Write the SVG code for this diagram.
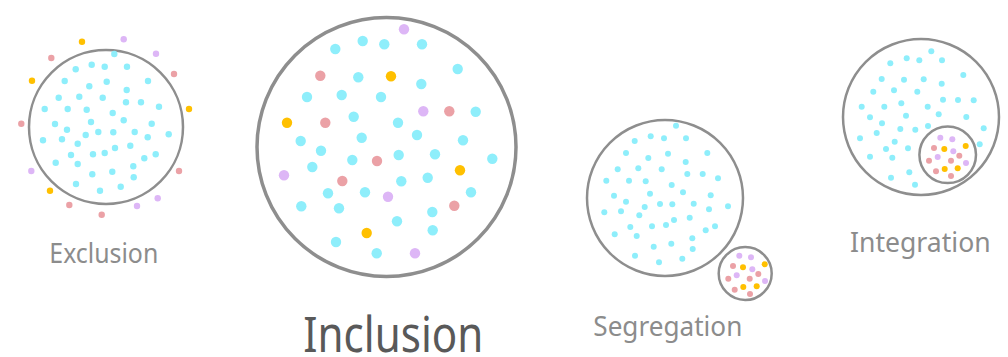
<svg xmlns="http://www.w3.org/2000/svg" width="1008" height="357" viewBox="0 0 1008 357">
<style>
.c{fill:#8EEEFB}.p{fill:#EBA1A6}.u{fill:#DDB6F6}.g{fill:#FFC000}
.ring{fill:none;stroke:#8E8E8E}
.lbl{font-family:"Noto Sans","Open Sans",sans-serif;fill:#8C8C8C}
.s1 circle{r:3.2px}.s2 circle{r:5.2px}.s3 circle{r:3px}
</style>
<rect width="1008" height="357" fill="#fff"/>
<g id="exclusion">
<circle class="ring" cx="106" cy="127" r="77" stroke-width="2.5"/>
<g class="s1">
<circle class="c" cx="114.3" cy="54" r="3.2"/><circle class="c" cx="75.7" cy="69.3" r="3.2"/><circle class="c" cx="91.7" cy="64.7" r="3.2"/><circle class="c" cx="104.7" cy="66.7" r="3.2"/><circle class="c" cx="127" cy="66.7" r="3.2"/>
<circle class="c" cx="64.7" cy="81" r="3.2"/><circle class="c" cx="89.3" cy="86.3" r="3.2"/><circle class="c" cx="106.7" cy="81.7" r="3.2"/><circle class="c" cx="148" cy="81" r="3.2"/><circle class="c" cx="126.7" cy="90" r="3.2"/>
<circle class="c" cx="58.7" cy="97.7" r="3.2"/><circle class="c" cx="79.3" cy="96.7" r="3.2"/><circle class="c" cx="102.7" cy="97.7" r="3.2"/><circle class="c" cx="126" cy="102.3" r="3.2"/><circle class="c" cx="141" cy="102.3" r="3.2"/>
<circle class="c" cx="159" cy="106.7" r="3.2"/><circle class="c" cx="44.7" cy="109" r="3.2"/><circle class="c" cx="67.7" cy="109" r="3.2"/><circle class="c" cx="86.7" cy="109.7" r="3.2"/><circle class="c" cx="112.7" cy="113" r="3.2"/>
<circle class="c" cx="55" cy="124" r="3.2"/><circle class="c" cx="91" cy="122" r="3.2"/><circle class="c" cx="123.7" cy="120.3" r="3.2"/><circle class="c" cx="151.7" cy="123.7" r="3.2"/><circle class="c" cx="67" cy="129.7" r="3.2"/>
<circle class="c" cx="98.3" cy="132" r="3.2"/><circle class="c" cx="113.3" cy="132.3" r="3.2"/><circle class="c" cx="134.7" cy="132" r="3.2"/><circle class="c" cx="168.7" cy="134.3" r="3.2"/><circle class="c" cx="43" cy="140.3" r="3.2"/>
<circle class="c" cx="62" cy="139.3" r="3.2"/><circle class="c" cx="85.7" cy="135" r="3.2"/><circle class="c" cx="147.7" cy="137.3" r="3.2"/><circle class="c" cx="77.7" cy="143.7" r="3.2"/><circle class="c" cx="130.3" cy="145.7" r="3.2"/>
<circle class="c" cx="115" cy="148" r="3.2"/><circle class="c" cx="71" cy="155" r="3.2"/><circle class="c" cx="93" cy="154.3" r="3.2"/><circle class="c" cx="104.7" cy="153" r="3.2"/><circle class="c" cx="155.7" cy="154.3" r="3.2"/>
<circle class="c" cx="144.3" cy="158.3" r="3.2"/><circle class="c" cx="55.7" cy="162.7" r="3.2"/><circle class="c" cx="77.7" cy="164" r="3.2"/><circle class="c" cx="133.3" cy="166.3" r="3.2"/><circle class="c" cx="92.3" cy="174.3" r="3.2"/>
<circle class="c" cx="112.3" cy="171.7" r="3.2"/><circle class="c" cx="133.7" cy="177.3" r="3.2"/><circle class="c" cx="76" cy="184" r="3.2"/><circle class="c" cx="120.7" cy="186.7" r="3.2"/><circle class="c" cx="100" cy="190.7" r="3.2"/>
<circle class="g" cx="82" cy="41.7" r="3.2"/><circle class="u" cx="123.7" cy="39.3" r="3.2"/><circle class="u" cx="156" cy="53.7" r="3.2"/><circle class="p" cx="51.3" cy="58" r="3.2"/><circle class="p" cx="174" cy="74" r="3.2"/>
<circle class="g" cx="32" cy="80.7" r="3.2"/><circle class="g" cx="189" cy="109" r="3.2"/><circle class="p" cx="21.3" cy="123.7" r="3.2"/><circle class="p" cx="179" cy="171" r="3.2"/><circle class="u" cx="31.3" cy="171" r="3.2"/>
<circle class="g" cx="50" cy="190.7" r="3.2"/><circle class="u" cx="157.7" cy="198.3" r="3.2"/><circle class="u" cx="137" cy="206" r="3.2"/><circle class="p" cx="69.3" cy="205" r="3.2"/><circle class="p" cx="101.7" cy="214.7" r="3.2"/>
</g>
<text class="lbl" x="49.3" y="263.3" font-size="28" textLength="109" lengthAdjust="spacingAndGlyphs">Exclusion</text>
</g>
<g id="inclusion">
<circle class="ring" cx="386.5" cy="147" r="129.5" stroke-width="3.5"/>
<g class="s2">
<circle class="c" cx="335.3" cy="49" r="5.2"/><circle class="c" cx="362.7" cy="41" r="5.2"/><circle class="c" cx="384.3" cy="44.3" r="5.2"/><circle class="c" cx="358.3" cy="77.3" r="5.2"/><circle class="c" cx="307" cy="97" r="5.2"/>
<circle class="c" cx="341.7" cy="95" r="5.2"/><circle class="c" cx="381" cy="97" r="5.2"/><circle class="c" cx="353.7" cy="116.7" r="5.2"/><circle class="c" cx="300.7" cy="141" r="5.2"/><circle class="c" cx="361.7" cy="137.7" r="5.2"/>
<circle class="c" cx="321" cy="150.7" r="5.2"/><circle class="c" cx="312.3" cy="167" r="5.2"/><circle class="c" cx="352.3" cy="160" r="5.2"/><circle class="c" cx="328" cy="193.3" r="5.2"/><circle class="c" cx="365" cy="192.3" r="5.2"/>
<circle class="c" cx="301.3" cy="206.3" r="5.2"/><circle class="c" cx="339" cy="208.3" r="5.2"/><circle class="c" cx="336" cy="242" r="5.2"/><circle class="c" cx="376.7" cy="253.3" r="5.2"/>
<circle class="c" cx="422" cy="44.3" r="5.2"/><circle class="c" cx="457.7" cy="69" r="5.2"/><circle class="c" cx="421.3" cy="84" r="5.2"/><circle class="c" cx="475.7" cy="111.7" r="5.2"/><circle class="c" cx="398" cy="122.7" r="5.2"/>
<circle class="c" cx="417" cy="135" r="5.2"/><circle class="c" cx="463" cy="140.3" r="5.2"/><circle class="c" cx="398.7" cy="155" r="5.2"/><circle class="c" cx="435" cy="154.3" r="5.2"/><circle class="c" cx="492.3" cy="158.7" r="5.2"/>
<circle class="c" cx="401.3" cy="181.3" r="5.2"/><circle class="c" cx="427.7" cy="177.7" r="5.2"/><circle class="c" cx="471" cy="192.3" r="5.2"/><circle class="c" cx="432.3" cy="212" r="5.2"/><circle class="c" cx="397" cy="221.3" r="5.2"/>
<circle class="c" cx="432.7" cy="230.3" r="5.2"/>
<circle class="p" cx="320.3" cy="75.7" r="5.2"/><circle class="p" cx="325.3" cy="122.7" r="5.2"/><circle class="p" cx="377" cy="161" r="5.2"/><circle class="p" cx="342.3" cy="181" r="5.2"/><circle class="p" cx="449.3" cy="111.3" r="5.2"/><circle class="p" cx="454.3" cy="205.7" r="5.2"/>
<circle class="g" cx="287" cy="122.7" r="5.2"/><circle class="g" cx="391" cy="76.3" r="5.2"/><circle class="g" cx="366.7" cy="233" r="5.2"/><circle class="g" cx="460" cy="170.3" r="5.2"/>
<circle class="u" cx="284" cy="175.3" r="5.2"/><circle class="u" cx="388" cy="196.7" r="5.2"/><circle class="u" cx="404" cy="29.3" r="5.2"/><circle class="u" cx="423.3" cy="111.3" r="5.2"/><circle class="u" cx="415" cy="253.3" r="5.2"/>
</g>
<text class="lbl" x="303.3" y="351.7" font-size="49" fill="#595959" style="fill:#595959" textLength="180" lengthAdjust="spacingAndGlyphs">Inclusion</text>
</g>
<g id="segregation">
<circle class="ring" cx="665" cy="198" r="78" stroke-width="2.5"/>
<circle class="ring" cx="745.2" cy="273.5" r="26.5" stroke-width="2.5"/>
<g class="s3">
<circle class="c" cx="676" cy="125.7" r="3"/><circle class="c" cx="634.7" cy="141" r="3"/><circle class="c" cx="650.7" cy="136.3" r="3"/><circle class="c" cx="664" cy="138.3" r="3"/><circle class="c" cx="686" cy="138.3" r="3"/>
<circle class="c" cx="626" cy="153" r="3"/><circle class="c" cx="648.3" cy="158" r="3"/><circle class="c" cx="668" cy="153.7" r="3"/><circle class="c" cx="707.3" cy="153" r="3"/><circle class="c" cx="685.7" cy="162" r="3"/>
<circle class="c" cx="617.7" cy="169.3" r="3"/><circle class="c" cx="638.3" cy="168.3" r="3"/><circle class="c" cx="661.7" cy="169.3" r="3"/><circle class="c" cx="687.3" cy="174" r="3"/><circle class="c" cx="702.7" cy="174" r="3"/>
<circle class="c" cx="718" cy="178.3" r="3"/><circle class="c" cx="606.3" cy="180.7" r="3"/><circle class="c" cx="629" cy="180.7" r="3"/><circle class="c" cx="645.7" cy="181.3" r="3"/><circle class="c" cx="671.7" cy="185" r="3"/>
<circle class="c" cx="683" cy="192.3" r="3"/><circle class="c" cx="614" cy="195.7" r="3"/><circle class="c" cx="650" cy="193.7" r="3"/><circle class="c" cx="710.7" cy="195.3" r="3"/><circle class="c" cx="626" cy="201.7" r="3"/>
<circle class="c" cx="660" cy="204" r="3"/><circle class="c" cx="672.3" cy="204.3" r="3"/><circle class="c" cx="693.7" cy="203.7" r="3"/><circle class="c" cx="728" cy="206.3" r="3"/><circle class="c" cx="604.3" cy="212.3" r="3"/>
<circle class="c" cx="621" cy="211.3" r="3"/><circle class="c" cx="644.7" cy="207" r="3"/><circle class="c" cx="709" cy="209.3" r="3"/><circle class="c" cx="639.3" cy="215.3" r="3"/><circle class="c" cx="689.7" cy="217.7" r="3"/>
<circle class="c" cx="674" cy="220" r="3"/><circle class="c" cx="666" cy="225" r="3"/><circle class="c" cx="652" cy="226.3" r="3"/><circle class="c" cx="630.3" cy="227" r="3"/><circle class="c" cx="715" cy="226.3" r="3"/>
<circle class="c" cx="705.7" cy="230.3" r="3"/><circle class="c" cx="614.7" cy="234.3" r="3"/><circle class="c" cx="636.7" cy="236" r="3"/><circle class="c" cx="692.3" cy="238.3" r="3"/><circle class="c" cx="671.3" cy="243.7" r="3"/>
<circle class="c" cx="653.7" cy="246.7" r="3"/><circle class="c" cx="692.7" cy="249" r="3"/><circle class="c" cx="635" cy="255.7" r="3"/><circle class="c" cx="682.3" cy="258.7" r="3"/><circle class="c" cx="659" cy="262.3" r="3"/>
<circle class="u" cx="739.3" cy="255.7" r="3"/><circle class="u" cx="751" cy="257.3" r="3"/><circle class="p" cx="733" cy="266" r="3"/><circle class="g" cx="743" cy="267.3" r="3"/><circle class="u" cx="752.3" cy="269.3" r="3"/>
<circle class="g" cx="764.7" cy="264.3" r="3"/><circle class="p" cx="758.3" cy="274" r="3"/><circle class="u" cx="736.7" cy="275.3" r="3"/><circle class="p" cx="728.3" cy="278.7" r="3"/><circle class="p" cx="749.7" cy="278.7" r="3"/>
<circle class="u" cx="765" cy="281" r="3"/><circle class="p" cx="734.7" cy="289.7" r="3"/><circle class="g" cx="743.3" cy="287" r="3"/><circle class="g" cx="756.7" cy="286.3" r="3"/><circle class="p" cx="750" cy="294" r="3"/>
</g>
<text class="lbl" x="593.3" y="335.7" font-size="27.5" textLength="149" lengthAdjust="spacingAndGlyphs">Segregation</text>
</g>
<g id="integration">
<circle class="ring" cx="921" cy="117" r="78" stroke-width="2.5"/>
<circle class="ring" cx="947.7" cy="154.8" r="28.3" stroke-width="2.5"/>
<g class="s3">
<circle class="c" cx="931.3" cy="51.3" r="3"/><circle class="c" cx="890.3" cy="63.3" r="3"/><circle class="c" cx="906.7" cy="58.3" r="3"/><circle class="c" cx="919.3" cy="60.3" r="3"/><circle class="c" cx="942" cy="60.3" r="3"/>
<circle class="c" cx="881.7" cy="79" r="3"/><circle class="c" cx="904" cy="79.7" r="3"/><circle class="c" cx="923.7" cy="79.3" r="3"/><circle class="c" cx="963.3" cy="75" r="3"/><circle class="c" cx="941.7" cy="83.7" r="3"/>
<circle class="c" cx="873.3" cy="91.7" r="3"/><circle class="c" cx="894" cy="90.3" r="3"/><circle class="c" cx="917.3" cy="91.7" r="3"/><circle class="c" cx="943" cy="99.7" r="3"/><circle class="c" cx="958" cy="100" r="3"/>
<circle class="c" cx="973.7" cy="100.3" r="3"/><circle class="c" cx="861.7" cy="106.7" r="3"/><circle class="c" cx="884.3" cy="106.7" r="3"/><circle class="c" cx="901.3" cy="103.3" r="3"/><circle class="c" cx="927.7" cy="106.7" r="3"/>
<circle class="c" cx="938.7" cy="114.3" r="3"/><circle class="c" cx="870" cy="117.3" r="3"/><circle class="c" cx="906" cy="115.7" r="3"/><circle class="c" cx="966.3" cy="117" r="3"/><circle class="c" cx="882" cy="123.3" r="3"/>
<circle class="c" cx="915.3" cy="129.7" r="3"/><circle class="c" cx="928" cy="126" r="3"/><circle class="c" cx="900.3" cy="129" r="3"/><circle class="c" cx="983.7" cy="128.3" r="3"/><circle class="c" cx="860" cy="138.3" r="3"/>
<circle class="c" cx="876.7" cy="133" r="3"/><circle class="c" cx="894.7" cy="141.7" r="3"/><circle class="c" cx="979.7" cy="144.3" r="3"/><circle class="c" cx="886" cy="149" r="3"/><circle class="c" cx="908" cy="148.3" r="3"/>
<circle class="c" cx="870" cy="156.7" r="3"/><circle class="c" cx="892.3" cy="157.7" r="3"/><circle class="c" cx="909.3" cy="172.3" r="3"/><circle class="c" cx="891" cy="177.7" r="3"/><circle class="c" cx="915" cy="184.7" r="3"/>
<circle class="u" cx="940.3" cy="137.7" r="3"/><circle class="u" cx="952.3" cy="139.3" r="3"/><circle class="p" cx="934" cy="148" r="3"/><circle class="g" cx="944.3" cy="149" r="3"/><circle class="u" cx="953.3" cy="151.3" r="3"/>
<circle class="g" cx="965.7" cy="146" r="3"/><circle class="p" cx="959.3" cy="155.7" r="3"/><circle class="u" cx="937.7" cy="157" r="3"/><circle class="p" cx="929" cy="160.7" r="3"/><circle class="p" cx="951" cy="160.7" r="3"/>
<circle class="u" cx="966" cy="163" r="3"/><circle class="p" cx="936" cy="171.3" r="3"/><circle class="g" cx="944.7" cy="169" r="3"/><circle class="g" cx="957.7" cy="168.3" r="3"/><circle class="p" cx="951" cy="176" r="3"/>
</g>
<text class="lbl" x="850" y="252" font-size="28" textLength="140.7" lengthAdjust="spacingAndGlyphs">Integration</text>
</g>
</svg>
